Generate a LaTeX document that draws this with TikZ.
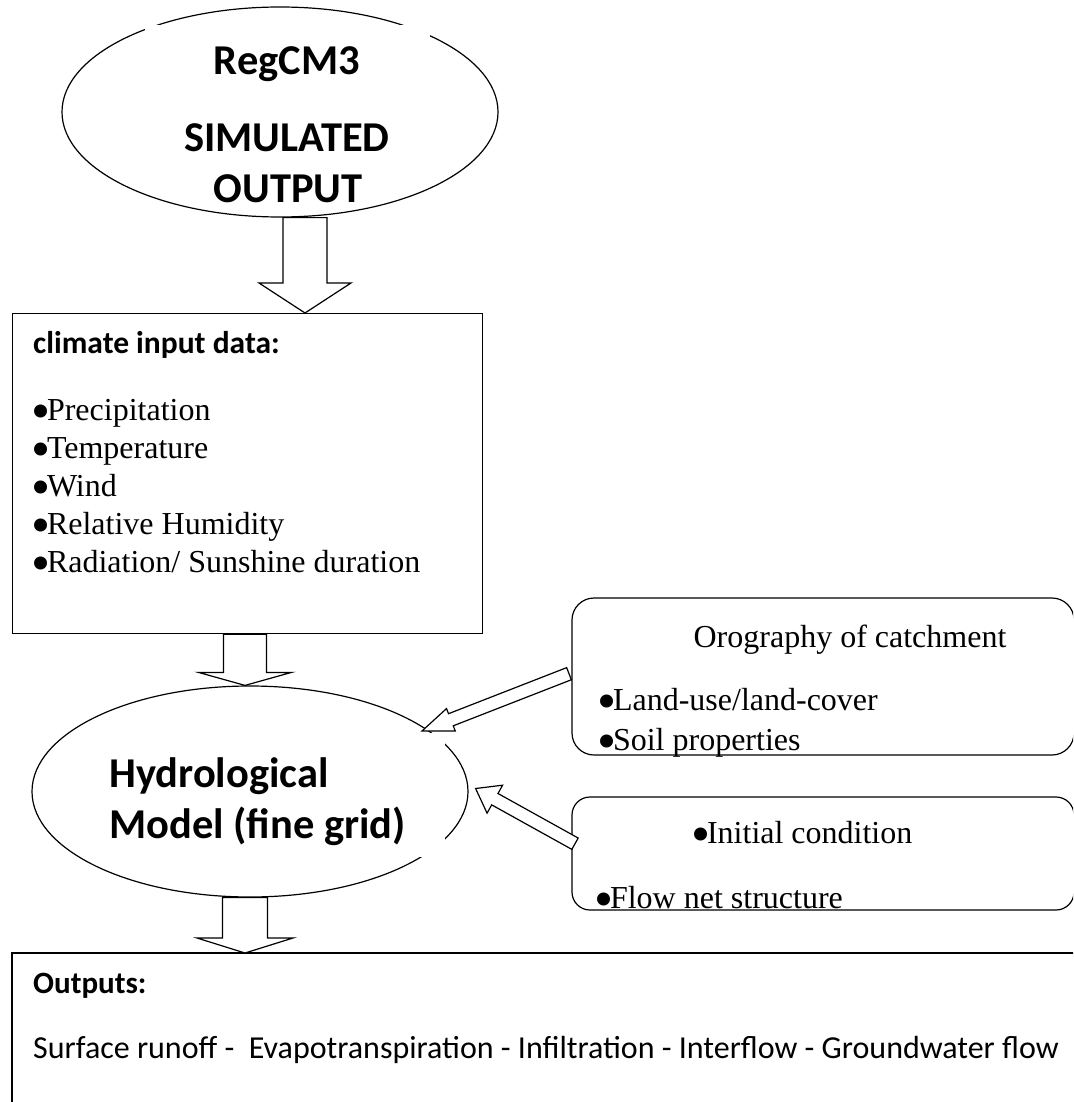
\documentclass[tikz,border=0pt]{standalone}
\usepackage{fontspec}
\setmainfont{Liberation Serif}
\newfontfamily\calibri{Carlito}
\usetikzlibrary{calc,shapes.geometric}

\tikzset{
  outline/.style={draw, line width=1.2pt},
  bigtitle/.style={font=\calibri\bfseries\fontsize{42.5}{50}\selectfont, inner sep=0pt},
  boxhead/.style={font=\calibri\bfseries\fontsize{31.5}{37}\selectfont, inner sep=0pt, anchor=base west},
  itemtext/.style={font=\fontsize{32}{38}\selectfont, inner sep=0pt, anchor=base west},
  outtext/.style={font=\calibri\fontsize{32}{38}\selectfont, inner sep=0pt, anchor=base west},
}
\newcommand\bul{\smash{\raisebox{-0.3em}{\scalebox{1.7}{\textbullet}}}\kern-0.1em}

% block arrow: tail, tip, shaft half width, head half width, head length
\newcommand\blockarrow[5]{
  \coordinate (bah) at ($(#2)!#5!(#1)$);
  \draw[outline, fill=white] ($(#1)!#3!90:(#2)$) -- ($(bah)!#3!90:(#2)$)
    -- ($(bah)!#4!90:(#2)$) -- (#2) -- ($(bah)!#4!-90:(#2)$)
    -- ($(bah)!#3!-90:(#2)$) -- ($(#1)!#3!-90:(#2)$) -- cycle;
}

\begin{document}
\begin{tikzpicture}[x=1pt, y=-1pt]
  \useasboundingbox (0,0) rectangle (1073,1102);
  \clip (0,0) rectangle (1073,1102);

  % RegCM3 output
  \node[outline, ellipse, minimum width=436pt, minimum height=210pt, inner sep=0pt] (sim) at (280,112) {};
  \fill[white] (145,25) rectangle (430,180);
  \node[bigtitle, anchor=base] (regcm) at (287,75) {RegCM3};
  \node[bigtitle, anchor=base] (simul) at (287,152) {SIMULATED};
  \node[bigtitle, anchor=base] (simout) at (288,202) {OUTPUT};

  % climate input data
  \node[outline, anchor=north west, minimum width=470pt, minimum height=320pt, inner sep=0pt] (clim) at (12,313) {};
  \node[boxhead] (climhead) at (33,353) {climate input data:};
  \foreach \txt [count=\i] in {Precipitation, Temperature, Wind, Relative Humidity, Radiation/ Sunshine duration}
    \node[itemtext] (in\i) at (31,382+38*\i) {\bul\txt};

  % hydrological model
  \node[outline, ellipse, minimum width=436pt, minimum height=211pt, inner sep=0pt] (hydro) at (250,791.5) {};
  \fill[white] (95,733) rectangle (445,857);
  \node[bigtitle, anchor=base west] (hyd1) at (109,787) {Hydrological};
  \node[bigtitle, anchor=base west] (hyd2) at (109,838) {Model (fine grid)};

  % side inputs
  \draw[outline, rounded corners=22pt] (572,598) rectangle (1074,755);
  \node[draw=none, anchor=north west, minimum width=502pt, minimum height=157pt] (oro) at (572,598) {};
  \node[itemtext, anchor=base] (orohead) at (850,647) {Orography of catchment};
  \node[itemtext] (land) at (597,710) {\bul Land-use/land-cover};
  \node[itemtext] (soil) at (597,750) {\bul Soil properties};

  \draw[outline, rounded corners=18pt] (572,797) rectangle (1074,910);
  \node[draw=none, anchor=north west, minimum width=502pt, minimum height=113pt] (ini) at (572,797) {};
  \node[itemtext] (inicond) at (691,843) {\bul Initial condition};
  \node[itemtext] (flow) at (594,908) {\bul Flow net structure};

  % outputs
  \draw[outline] (1120,953) -- (12,953) -- (12,1130);
  \node[draw=none, anchor=north west, minimum width=1100pt, minimum height=160pt] (outp) at (12,953) {};
  \node[boxhead, font=\calibri\bfseries\fontsize{31}{37}\selectfont] (outhead) at (33,993) {Outputs:};
  \node[outtext] (outlist) at (33,1058) {Surface runoff -\ \ Evapotranspiration - Infiltration - Interflow - Groundwater flow};

  % arrows
  \coordinate (c1) at (305,0);
  \coordinate (c2) at (245,0);
  \coordinate (t4) at ($(oro.west)+(-3,-3)$);
  \coordinate (h4) at (422,731);
  \coordinate (t5) at ($(ini.west)+(3,-10)$);
  \coordinate (h5) at ($(hydro.east)+(7,-3)$);
  \blockarrow{sim.south -| c1}{clim.north -| c1}{22pt}{46pt}{30pt}
  \blockarrow{clim.south -| c2}{hydro.north -| c2}{21.5pt}{46.5pt}{13pt}
  \blockarrow{hydro.south -| c2}{outp.north -| c2}{22.5pt}{48pt}{15pt}
  \blockarrow{t4}{h4}{6.5pt}{12pt}{31pt}
  \blockarrow{t5}{h5}{6.5pt}{16pt}{22pt}
\end{tikzpicture}
\end{document}
